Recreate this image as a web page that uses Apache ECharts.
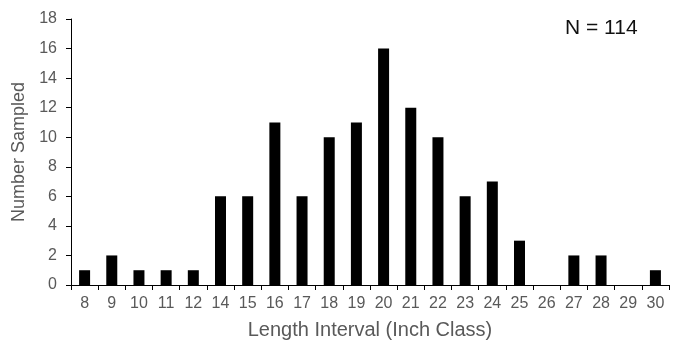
<!DOCTYPE html>
<html><head><meta charset="utf-8">
<script src="https://cdn.jsdelivr.net/npm/echarts@6/dist/echarts.min.js"></script>
<style>html,body{margin:0;padding:0;background:#fff}#c{width:683px;height:345px}</style>
</head><body><div id="c"></div>
<script>
const categories = ['8','9','10','11','12','14','15','16','17','18','19','20','21','22','23','24','25','26','27','28','29','30'];
const counts = [1,2,1,1,1,6,6,11,6,10,11,16,12,10,6,7,3,0,2,2,0,1];
const yTicks = {min:0, max:18, interval:2};
const chart = echarts.init(document.getElementById('c'), null, {renderer:'canvas'});
const font = 'Liberation Sans, Arial, sans-serif';
chart.setOption({
  animation:false,
  grid:{left:71, right:14, top:19, bottom:59},
  graphic:[{type:'text', left:565, top:18, style:{text:'N = 114', font:'21px Liberation Sans, Arial, sans-serif', fill:'#111'}}],
  xAxis:{type:'category', data:categories,
    name:'Length Interval (Inch Class)', nameLocation:'middle', nameGap:35,
    nameTextStyle:{color:'#595959', fontSize:20, fontFamily:font},
    axisLine:{lineStyle:{color:'#000', width:1}},
    axisTick:{show:true, alignWithLabel:false, length:5, lineStyle:{color:'#000'}},
    axisLabel:{color:'#595959', fontSize:16, fontFamily:font, margin:11, interval:0}},
  yAxis:{type:'value', min:yTicks.min, max:yTicks.max, interval:yTicks.interval,
    name:'Number Sampled', nameLocation:'middle', nameGap:42,
    nameTextStyle:{color:'#595959', fontSize:18, fontFamily:font},
    splitLine:{show:false},
    axisLine:{show:true, lineStyle:{color:'#000', width:1}},
    axisTick:{show:true, length:5, lineStyle:{color:'#000'}},
    axisLabel:{color:'#595959', fontSize:16, fontFamily:font, margin:14}},
  series:[{type:'bar', data:counts, barWidth:11, itemStyle:{color:'#000'}}]
});
</script></body></html>
